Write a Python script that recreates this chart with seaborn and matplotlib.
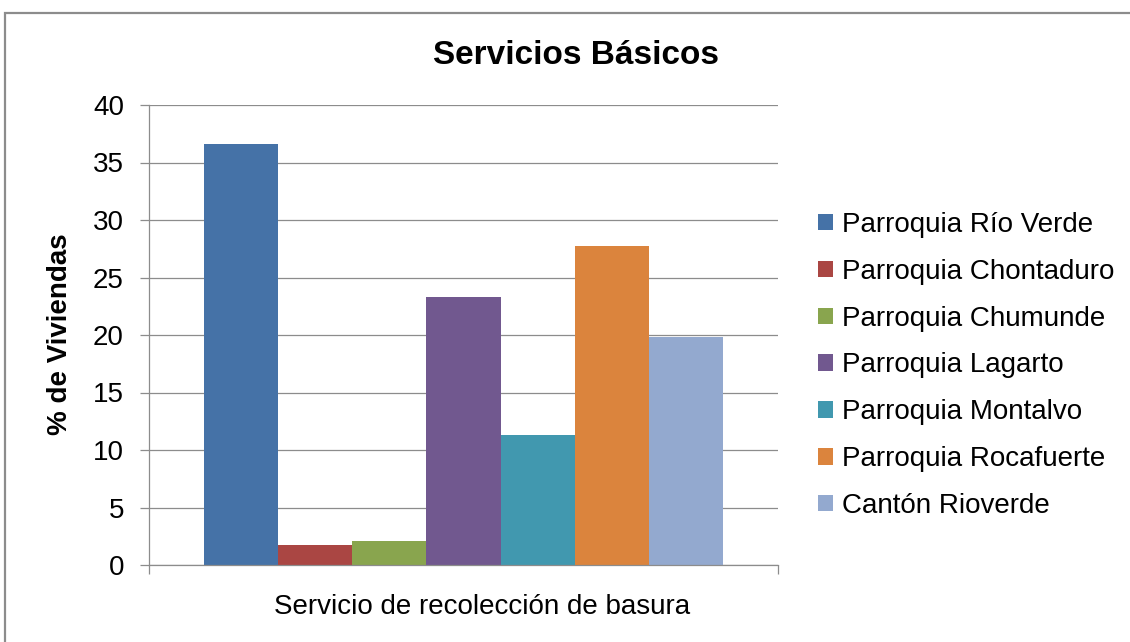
import matplotlib
matplotlib.use("Agg")
import matplotlib.pyplot as plt
import seaborn as sns
import pandas as pd
from matplotlib.patches import Rectangle

# ---- data ----
category = ["Servicio de recolección de basura"]
series = ["Parroquia Río Verde", "Parroquia Chontaduro", "Parroquia Chumunde",
          "Parroquia Lagarto", "Parroquia Montalvo", "Parroquia Rocafuerte",
          "Cantón Rioverde"]
values = [36.6, 1.75, 2.05, 23.3, 11.3, 27.7, 19.8]
colors = ["#4572A7", "#AA4643", "#89A54E", "#71588F", "#4198AF", "#DB843D", "#93A9CF"]
yticks = [0, 5, 10, 15, 20, 25, 30, 35, 40]
title = "Servicios Básicos"
ylabel = "% de Viviendas"

sns.set_style("white")
plt.rcParams["font.family"] = ["Liberation Sans", "DejaVu Sans"]
plt.rcParams["text.color"] = "black"
plt.rcParams["xtick.labelcolor"] = "black"
plt.rcParams["ytick.labelcolor"] = "black"

W, H = 1130, 642
fig = plt.figure(figsize=(W / 100, H / 100), dpi=100)

# outer chart frame
fig.patches.append(Rectangle((5 / W, 0 - 0.05), 1.1, 1 - 13 / H + 0.05,
                             transform=fig.transFigure, fill=False,
                             edgecolor="#8C8C8C", linewidth=1.6))

left, right = 149 / W, 778 / W
bottom, top = 1 - 565 / H, 1 - 105 / H
ax = fig.add_axes([left, bottom, right - left, top - bottom])

df = pd.DataFrame({"cat": category * len(series), "serie": series, "valor": values})
sns.barplot(data=df, x="cat", y="valor", hue="serie", palette=colors,
            width=0.825, gap=0, linewidth=0, saturation=1, ax=ax, errorbar=None)

ax.set_xlim(-0.5, 0.5)
ax.set_ylim(0, 40)
ax.set_yticks(yticks)
ax.set_yticklabels([str(t) for t in yticks])
gcol = "#8C8C8C"
ax.yaxis.grid(True, color=gcol, linewidth=0.9)
ax.set_axisbelow(True)
for s in ["top", "right"]:
    ax.spines[s].set_visible(False)
for s in ["left", "bottom"]:
    ax.spines[s].set_color(gcol)
    ax.spines[s].set_linewidth(0.9)

ax.tick_params(axis="y", which="major", direction="out", length=6.5, width=0.9,
               color=gcol, labelsize=20, pad=11.5, left=True, labelcolor="black")
ax.set_xticks([-0.5, 0.5])
ax.set_xticklabels(["", ""])
ax.tick_params(axis="x", which="major", direction="out", length=6.5, width=0.9,
               color=gcol, bottom=True)
ax.set_xticks([0.03], minor=True)
ax.set_xticklabels(category, minor=True)
ax.tick_params(axis="x", which="minor", length=0, labelsize=20, pad=21,
               labelcolor="black")
ax.set_xlabel("")
ax.set_ylabel("")

handles, labels = ax.get_legend_handles_labels()
if ax.get_legend() is not None:
    ax.get_legend().remove()
fig.legend(handles, labels, loc="upper left",
           bbox_to_anchor=(818 / W, 1 - 212 / H), bbox_transform=fig.transFigure,
           frameon=False, fontsize=20, handlelength=0.54, handleheight=0.54,
           handletextpad=0.32, labelspacing=0.75, borderpad=0, borderaxespad=0)

fig.text(576 / W, 1 - 55 / H, title, ha="center", va="center",
         fontsize=24, fontweight="bold")
fig.text(60 / W, 1 - 334 / H, ylabel, ha="center", va="center", rotation=90,
         fontsize=20, fontweight="bold")

fig.savefig("out.png", dpi=100)
